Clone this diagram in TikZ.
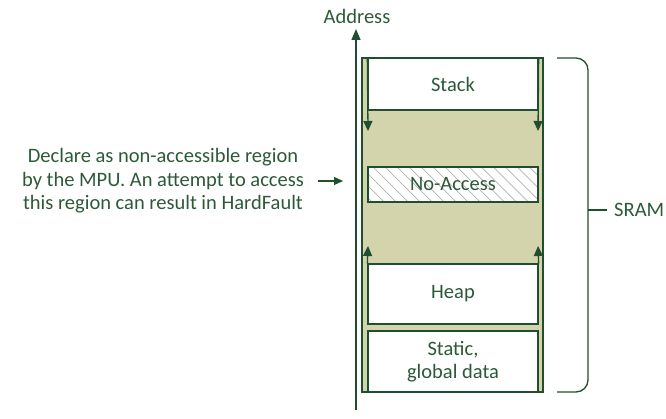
\documentclass[tikz,border=0pt]{standalone}
\usepackage{fontspec}
\setmainfont{Carlito}
\usetikzlibrary{arrows.meta,patterns.meta}
\definecolor{dg}{HTML}{1F4F2E}
\definecolor{tg}{HTML}{2C5A38}
\definecolor{tan}{HTML}{D3D4AC}
\tikzset{
  memfill/.style={draw=dg,line width=1.3pt,fill=tan},
  membox/.style={draw=dg,line width=1.3pt,fill=white,minimum width=170pt,inner sep=0pt,text=tg,font=\fontsize{20.5}{23}\selectfont,align=center},
  lbl/.style={text=tg,font=\fontsize{20.5}{23.5}\selectfont,inner sep=0pt},
  arr/.style={draw=dg,line width=1.5pt,-{Triangle[length=11pt,width=9pt]}},
  sarr/.style={draw=dg,line width=1.3pt,-{Triangle[length=10pt,width=9pt]}},
  brace/.style={draw=dg,line width=1.3pt,rounded corners=12pt}
}
\begin{document}
\begin{tikzpicture}[x=1pt,y=-1pt]
\useasboundingbox (0,0) rectangle (666,419);
% outer SRAM area
\node[memfill,minimum width=181pt,minimum height=334pt,inner sep=0pt] (outer) at (452.5,225) {};
% boxes
\node[membox,minimum height=52pt] (stack) at (453,84) {Stack};
\node[membox,minimum height=35pt,postaction={pattern={Lines[angle=-45,distance=8.5pt,line width=0.7pt]},pattern color=gray!60}] (noacc) at (453,184.5) {};
\node[draw=dg,line width=1.3pt,minimum width=170pt,minimum height=35pt,inner sep=0pt,text=tg,font=\fontsize{20.5}{23}\selectfont] (noacct) at (453,184.5) {No-Access};
\node[membox,minimum height=60pt] (heap) at (453,294) {Heap};
\node[membox,minimum height=61pt] (static) at (453,361.5) {Static,\\global data};
% growth arrows
\coordinate (sdl) at (368,131);
\coordinate (sdr) at (538,131);
\coordinate (hul) at (368,246);
\coordinate (hur) at (538,246);
\draw[sarr] (stack.north west) -- (sdl);
\draw[sarr] (stack.north east) -- (sdr);
\draw[sarr] (heap.north west) -- (hul);
\draw[sarr] (heap.north east) -- (hur);
% address axis
\coordinate (axb) at (356,410);
\coordinate (axt) at (356,29);
\draw[arr] (axb) -- (axt);
\node[lbl] (addr) at (357,16) {Address};
% left note
\node[lbl,align=center] (note) at (163,181) {Declare as non-accessible region\\by the MPU. An attempt to access\\this region can result in HardFault};
\coordinate (ntip) at (343,181);
\coordinate (nst) at (318,181);
\draw[arr,line width=1.3pt,-{Triangle[length=9pt,width=8pt]}] (nst) -- (ntip);
% brace
\coordinate (bt) at (557,58);
\coordinate (bb) at (557,392);
\coordinate (bm) at (588,210);
\coordinate (bk) at (607,210);
\draw[brace] (bt) -| (bm) |- (bb);
\draw[draw=dg,line width=1.3pt] (bm) -- (bk);
\node[lbl,anchor=west] (sram) at (614,210) {SRAM};
\end{tikzpicture}
\end{document}
